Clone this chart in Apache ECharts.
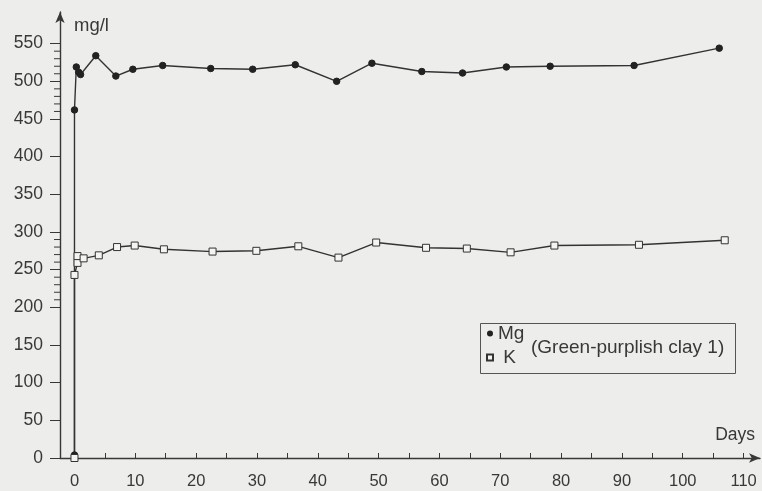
<!DOCTYPE html>
<html>
<head>
<meta charset="utf-8">
<script src="https://cdn.jsdelivr.net/npm/echarts@6/dist/echarts.min.js"></script>
<style>
html,body{margin:0;padding:0;background:#ededeb;}
#c{width:762px;height:491px;}
</style>
</head>
<body>
<div id="c"></div>
<script>
// ---- data ----
const mgDays   = [0, 0, 0.3, 0.7, 1, 3.5, 6.8, 9.6, 14.5, 22.4, 29.3, 36.3, 43.1, 48.9, 57.1, 63.8, 71, 78.2, 92, 106];
const mgValues = [4, 462, 519, 512, 509, 534, 507, 516, 521, 517, 516, 522, 500, 524, 513, 511, 519, 520, 521, 544];
const kDays    = [0, 0, 0.5, 0.5, 1.5, 4, 7, 9.9, 14.7, 22.7, 29.9, 36.8, 43.4, 49.6, 57.8, 64.5, 71.7, 78.9, 92.8, 106.9];
const kValues  = [0, 243, 259, 268, 265, 269, 280, 282, 277, 274, 275, 281, 266, 286, 279, 278, 273, 282, 283, 289];
const xTickValues  = [0,5,10,15,20,25,30,35,40,45,50,55,60,65,70,75,80,85,90,95,100,105,110];
const xLabelValues = [0,10,20,30,40,50,60,70,80,90,100,110];
const yLabelValues = [0,50,100,150,200,250,300,350,400,450,500,550];
const yMinorValues = [210,220,230,240,260,270,280,290,460,470,480,490,510,520,530,540];
const X_MIN = -2.38, X_MAX = 112.7, Y_MIN = 0, Y_MAX = 592;

const ink = '#383838';
const font = '"Liberation Sans", Arial, Helvetica, sans-serif';

const chart = echarts.init(document.getElementById('c'));
chart.setOption({
  backgroundColor: '#ededeb',
  animation: false,
  grid: { left: 60, right: 2, top: 12, bottom: 33, containLabel: false },
  xAxis: {
    type: 'value', min: X_MIN, max: X_MAX,
    name: 'Days', nameLocation: 'end', nameGap: -5,
    nameTextStyle: { color: ink, fontSize: 17.5, fontFamily: font, align: 'right', verticalAlign: 'bottom', padding: [0,0,14,0] },
    axisLine: { onZero: false, lineStyle: { color: ink, width: 1.4 }, symbol: ['none','arrow'], symbolSize: [7,11] },
    axisTick: { show: true, inside: true, length: 5, customValues: xTickValues, lineStyle: { color: ink } },
    axisLabel: { customValues: xLabelValues, color: ink, fontSize: 16.5, fontFamily: font, margin: 15 },
    splitLine: { show: false }
  },
  yAxis: {
    type: 'value', min: Y_MIN, max: Y_MAX,
    name: 'mg/l', nameLocation: 'end', nameGap: -14,
    nameTextStyle: { color: ink, fontSize: 18.5, fontFamily: font, align: 'left', verticalAlign: 'middle', padding: [0,0,0,14] },
    axisLine: { show: true, onZero: false, lineStyle: { color: ink, width: 1.4 }, symbol: ['none','arrow'], symbolSize: [7,11] },
    axisTick: { show: true, length: 10, customValues: yLabelValues, lineStyle: { color: ink } },
    axisLabel: { customValues: yLabelValues, color: ink, fontSize: 17.5, fontFamily: font, margin: 17 },
    splitLine: { show: false }
  },
  legend: {
    data: [{ name: 'Mg', icon: 'circle' }, { name: ' K', icon: 'rect' }],
    orient: 'vertical', left: 486, top: 324, padding: 0, itemGap: 5,
    itemWidth: 6, itemHeight: 6,
    textStyle: { color: ink, fontSize: 19, fontFamily: font, padding: [0,0,0,0] }
  },
  graphic: [
    { type: 'rect', left: 478, top: 321, shape: { width: 255, height: 50 }, style: { fill: 'none', stroke: '#555', lineWidth: 1 }, z: 5 },
    { type: 'text', left: 531, top: 338, style: { text: '(Green-purplish clay 1)', fill: ink, font: '19px ' + font }, z: 5 }
  ],
  series: [
    {
      name: 'Mg', type: 'line', data: mgDays.map((d, i) => [d, mgValues[i]]),
      symbol: 'circle', symbolSize: 6.5,
      lineStyle: { color: '#333', width: 1.4 },
      itemStyle: { color: '#222', borderColor: '#222' },
      z: 3
    },
    {
      name: ' K', type: 'line', data: kDays.map((d, i) => [d, kValues[i]]),
      symbol: 'rect', symbolSize: 7, showAllSymbol: true,
      lineStyle: { color: '#333', width: 1.4 },
      itemStyle: { color: '#f4f4f2', borderColor: '#333', borderWidth: 1 },
      z: 3
    },
    {
      name: 'minorTicks', type: 'custom', silent: true, clip: false,
      data: yMinorValues.map(v => [X_MIN, v]),
      renderItem: function (params, api) {
        const p = api.coord([X_MIN, api.value(1)]);
        return { type: 'line', shape: { x1: p[0] - 6, y1: p[1], x2: p[0], y2: p[1] }, style: { stroke: ink, lineWidth: 1 } };
      },
      z: 4
    }
  ]
});
</script>
</body>
</html>
